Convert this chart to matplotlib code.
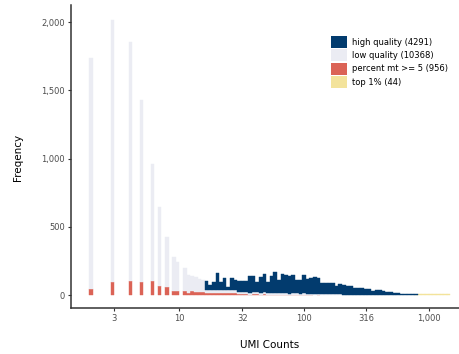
import numpy as np
import matplotlib
matplotlib.use("Agg")
import matplotlib.pyplot as plt
from matplotlib.patches import Patch
from matplotlib.ticker import FixedLocator, NullLocator

# ---- data: per-bin cell counts (100 log-spaced UMI bins) ----
low_quality = [
    1699, 0, 0, 0, 0, 0, 1918, 0, 0, 0,
    0, 1755, 0, 0, 1332, 0, 0, 857, 0, 576,
    0, 361, 0, 246, 210, 0, 168, 128, 116, 108,
    93, 88, 24, 22, 25, 21, 23, 20, 22, 21,
    22, 18, 16, 17, 15, 16, 17, 15, 16, 14,
    15, 11, 10, 12, 10, 9, 10, 11, 9, 10,
    8, 6, 5, 6, 5, 5, 4, 5, 4, 4,
    3, 3, 2, 2, 3, 2, 2, 2, 1, 2,
    1, 1, 1, 0, 1, 0, 0, 0, 0, 0,
    0, 0, 0, 0, 0, 0, 0, 0, 0, 0,
]
percent_mt = [
    42, 0, 0, 0, 0, 0, 97, 0, 0, 0,
    0, 103, 0, 0, 97, 0, 0, 100, 0, 66,
    0, 62, 0, 31, 31, 0, 29, 17, 27, 22,
    24, 24, 16, 14, 15, 17, 14, 15, 13, 14,
    13, 6, 4, 5, 3, 4, 4, 3, 4, 3,
    3, 2, 2, 3, 2, 1, 2, 2, 1, 2,
    1, 1, 0, 1, 0, 0, 0, 0, 0, 0,
    0, 0, 0, 0, 0, 0, 0, 0, 0, 0,
    0, 0, 0, 0, 0, 0, 0, 0, 0, 0,
    0, 0, 0, 0, 0, 0, 0, 0, 0, 0,
]
high_quality = [
    0, 0, 0, 0, 0, 0, 0, 0, 0, 0,
    0, 0, 0, 0, 0, 0, 0, 0, 0, 0,
    0, 0, 0, 0, 0, 0, 0, 0, 0, 0,
    0, 0, 65, 40, 59, 121, 56, 90, 22, 90,
    77, 82, 82, 78, 118, 118, 75, 112, 137, 78,
    118, 158, 100, 138, 138, 126, 134, 99, 99, 134,
    109, 121, 124, 116, 80, 80, 84, 84, 64, 80,
    67, 66, 64, 47, 47, 46, 40, 40, 30, 33,
    35, 28, 22, 20, 15, 12, 8, 8, 7, 6,
    3, 0, 0, 0, 0, 0, 0, 0, 0, 0,
]
top_1pct = [
    0, 0, 0, 0, 0, 0, 0, 0, 0, 0,
    0, 0, 0, 0, 0, 0, 0, 0, 0, 0,
    0, 0, 0, 0, 0, 0, 0, 0, 0, 0,
    0, 0, 0, 0, 0, 0, 0, 0, 0, 0,
    0, 0, 0, 0, 0, 0, 0, 0, 0, 0,
    0, 0, 0, 0, 0, 0, 0, 0, 0, 0,
    0, 0, 0, 0, 0, 0, 0, 0, 0, 0,
    0, 0, 0, 0, 0, 0, 0, 0, 0, 0,
    0, 0, 0, 0, 0, 0, 0, 0, 0, 0,
    3, 5, 5, 5, 5, 5, 4, 4, 4, 4,
]
legend_labels = ["high quality (4291)", "low quality (10368)",
                 "percent mt >= 5 (956)", "top 1% (44)"]
x_ticks = [3, 10, 32, 100, 316, 1000]
x_tick_labels = ["3", "10", "32", "100", "316", "1,000"]
y_ticks = [0, 500, 1000, 1500, 2000]
y_tick_labels = ["0", "500", "1,000", "1,500", "2,000"]

# ---- styling ----
C_HIGH = "#023B6E"
C_LOW = "#EBECF3"
C_MT = "#DB6356"
C_TOP = "#F3E39B"

plt.rcParams["font.family"] = ["DejaVu Sans"]

W, H = 459, 354
fig = plt.figure(figsize=(W / 100, H / 100), dpi=100)
ax_l, ax_r, ax_t, ax_b = 71, 468, 5, 308
ax = fig.add_axes([ax_l / W, 1 - ax_b / H, (ax_r - ax_l) / W, (ax_b - ax_t) / H])

# log-spaced bins
edges = 10 ** (0.281 + 0.0289 * np.arange(101))
centers = np.sqrt(edges[:-1] * edges[1:])

ax.set_xscale("log")
_, _, containers = ax.hist(
    [centers] * 4, bins=edges,
    weights=[top_1pct, percent_mt, low_quality, high_quality],
    stacked=True, histtype="barstacked", rwidth=1.0,
    color=[C_TOP, C_MT, C_LOW, C_HIGH],
)
for cont in containers:
    for p in cont:
        if p.get_height() > 0:
            p.set_edgecolor(p.get_facecolor())
            p.set_linewidth(0.3)
        else:
            p.set_linewidth(0)

ax.set_xlim(10 ** 0.136, 10 ** 3.312)
ax.set_ylim(-95, 2126)

ax.xaxis.set_major_locator(FixedLocator(x_ticks))
ax.xaxis.set_minor_locator(NullLocator())
ax.set_xticklabels(x_tick_labels)
ax.set_yticks(y_ticks)
ax.set_yticklabels(y_tick_labels)

for s in ["top", "right"]:
    ax.spines[s].set_visible(False)
for s in ["left", "bottom"]:
    ax.spines[s].set_color("#333333")
    ax.spines[s].set_linewidth(1.1)
ax.tick_params(axis="both", length=2.5, width=0.8, color="#333333",
               labelsize=6, labelcolor="#4D4D4D", pad=2)

fig.text((ax_l + ax_r) / 2 / W, 1 - 345 / H, "UMI Counts",
         ha="center", va="center", fontsize=7.5)
fig.text(18 / W, 1 - 157 / H, "Freqency", ha="center", va="center",
         rotation=90, fontsize=7.5)

handles = [Patch(facecolor=c, edgecolor="none") for c in [C_HIGH, C_LOW, C_MT, C_TOP]]
fs = 6
px_per_pt = 100 / 72
fs_px = fs * px_per_pt
leg = fig.legend(handles, legend_labels, loc="upper left",
                 bbox_to_anchor=(331 / W, 1 - 36 / H), frameon=False,
                 fontsize=fs, borderpad=0, borderaxespad=0,
                 handlelength=15.5 / fs_px, handleheight=15.5 / fs_px,
                 labelspacing=1.2 / fs_px, handletextpad=5 / fs_px)

fig.savefig("out.png", dpi=100)
